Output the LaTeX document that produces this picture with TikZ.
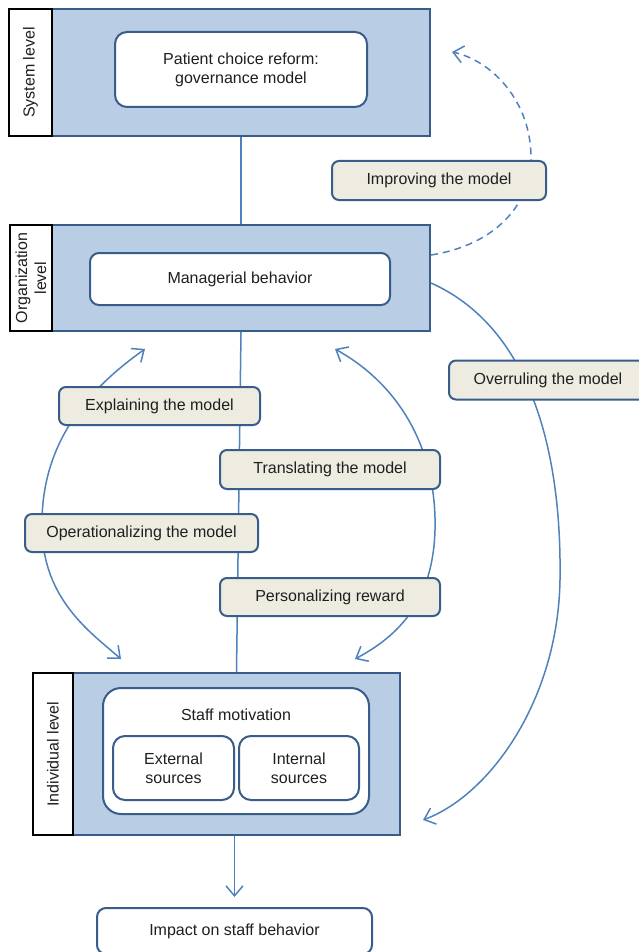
\documentclass[tikz,border=0pt]{standalone}
\usepackage{fontspec}
\setmainfont{Liberation Sans}
\usepackage{tikz}
\usetikzlibrary{arrows.meta,calc,positioning}
\definecolor{lvlfill}{HTML}{B9CDE5}
\definecolor{lvldraw}{HTML}{385D8A}
\definecolor{linkblue}{HTML}{4F81BD}
\definecolor{notefill}{HTML}{EEECE1}

\begin{document}
\begin{tikzpicture}[
    x=1pt, y=-1pt,
    every node/.style={font=\fontsize{16}{19}\selectfont, text=black!88, align=center, inner sep=0pt},
    lvl/.style={draw=lvldraw, fill=lvlfill, line width=2pt},
    lvllab/.style={draw=black, fill=white, line width=2.5pt, rotate=90},
    whitebox/.style={draw=lvldraw, fill=white, line width=2pt, rounded corners=12pt},
    note/.style={draw=lvldraw, fill=notefill, line width=2pt, rounded corners=7pt, minimum height=39},
    link/.style={draw=linkblue, line width=1.5pt},
    tip/.style={-{Straight Barb[length=10pt,width=17pt,line width=1.5pt]}},
    tips/.style={{Straight Barb[length=10pt,width=17pt,line width=1.5pt]}-{Straight Barb[length=10pt,width=17pt,line width=1.5pt]}}
]
\useasboundingbox (0,0) rectangle (639,952);

% system level
\node[lvl, minimum width=378, minimum height=127] (sys) at (241,72.5) {};
\node[lvllab, minimum width=127, minimum height=43] (syslab) at (30.5,72.5) {System level};
\node[whitebox, minimum width=252, minimum height=75] (reform) at (241,69.5) {Patient choice reform:\\governance model};

% organization level
\node[lvl, minimum width=378, minimum height=106] (org) at (241,278) {};
\node[lvllab, minimum width=106, minimum height=42] (orglab) at (31,278) {Organization\\level};
\node[whitebox, minimum width=300, minimum height=52, rounded corners=9pt] (mgr) at (240,279) {Managerial behavior};

% individual level
\node[lvl, minimum width=327, minimum height=162] (ind) at (236.5,754) {};
\node[lvllab, minimum width=162, minimum height=40] (indlab) at (53,754) {Individual level};
\node[whitebox, minimum width=266, minimum height=126, rounded corners=18pt] (motiv) at (236,751) {};
\node (motivtxt) at (236,715) {Staff motivation};
\node[whitebox, minimum width=121, minimum height=64] (ext) at (173.5,768) {External\\sources};
\node[whitebox, minimum width=120, minimum height=64] (int) at (299,768) {Internal\\sources};

\node[whitebox, minimum width=275, minimum height=46, rounded corners=9pt] (impact) at (234.5,931) {Impact on staff behavior};

% free ends of the curved arrows
\coordinate (upL) at (145,349);
\coordinate (downL) at (121,659);
\coordinate (upR) at (335,349);
\coordinate (downR) at (355,659);
\coordinate (dashEnd) at (452,52);
\coordinate (overEnd) at (423,820);

% links between the levels
\draw[link] (sys.south) -- (org.north);
\draw[link] (org.south) -- (ind.north);
\draw[link, tip, shorten >=10pt] (impact.north |- ind.south) -- (impact.north);

\draw[link, tips] (upL) .. controls (80,395) and (40,450) .. (42,530)
    .. controls (44,600) and (90,632) .. (downL);
\draw[link, tips] (upR) .. controls (400,385) and (437,450) .. (435,530)
    .. controls (433,600) and (400,635) .. (downR);
\draw[link, tip, dashed, dash pattern=on 7pt off 5pt] ([yshift=23pt]org.east)
    .. controls (495,245) and (530,205) .. (531,160)
    .. controls (532,100) and (490,60) .. (dashEnd);
\draw[link, tip] ([yshift=-5pt]org.east) .. controls (525,325) and (562,440) .. (560,580)
    .. controls (558,700) and (490,795) .. (overEnd);

% notes on the links
\node[note, minimum width=214] (improve) at (439,180.5) {Improving the model};
\node[note, minimum width=198] (overrule) at (548,380) {Overruling the model};
\node[note, minimum width=201, minimum height=38] (explain) at (159.5,406) {Explaining the model};
\node[note, minimum width=220] (translate) at (330,469.5) {Translating the model};
\node[note, minimum width=233, minimum height=38] (operate) at (141.5,533) {Operationalizing the model};
\node[note, minimum width=220, minimum height=38] (reward) at (330,597) {Personalizing reward};
\end{tikzpicture}
\end{document}
